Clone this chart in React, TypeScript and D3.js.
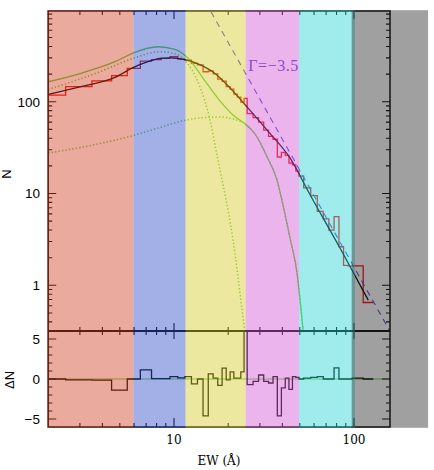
import React from "react";
import * as d3 from "d3";

// ---------------- data ----------------
// histogram bin edges (EW, Å)
const binEdges = [
  1.5, 2.5, 3.5, 4.5, 5.5, 6.5, 7.5, 8.5, 9.5, 10.5, 11.5, 12.5, 13.5, 14.5, 15.5,
  16.5, 17.5, 18.5, 19.5, 20.5, 21.5, 22.5, 23.5, 24.5, 25.5,
  27.5, 29.5, 31.5, 33.5, 35.5, 37.5, 39.5, 41.5, 43.5, 45.5, 47.5, 49.5,
  52.5,
  57.5, 62.5, 67.5, 72.5, 77.5, 82.5, 87.5, 92.5, 97.5,
  112.5, 128,
];
// counts N per bin
const counts = [
  118, 146, 169, 192, 231, 277, 288, 296, 309, 291, 284, 261, 252, 212, 216, 201,
  176, 168, 146, 137, 121, 112, 99, 109,
  74, 67, 60, 49, 42, 39, 25, 28, 26, 21.5, 20.5, 17.5,
  15.5,
  11.5, 9.5, 6.4, 5.3, 4.0, 5.6, 2.63, 1.65, 1.63,
  1.63, 0.65,
];
// residuals ΔN per bin
const residuals = [
  0, -0.1, -0.15, -1.4, 0, 1.15, 0.05, 0.05, 0.3, 0.15, 0.3, -0.6, 0, -4.6, 0.65, 0.1,
  -0.8, 1.36, -0.1, 0.9, 0.1, 0.1, 0.9, 9,
  -0.7, -0.3, 0.5, -0.3, -0.5, 0.3, -4.6, -1.1, 0.1, -1.3, 0.3, 0.2,
  0,
  0.1, 0.2, 0.3, 0, 0, 1.4, 0, 0, 0,
  0.1, 0,
];

// best fit (black)
const fitEW = [2.0, 3.04, 4.7, 5.92, 7.17, 8.36, 9.62, 11.5, 13.6, 16.9, 20.7, 25.8, 32.9, 44.1, 56.9, 83.6, 120];
const fitN = [120, 146, 184, 235, 273, 296, 301, 288, 258, 203, 138, 85, 49, 24.4, 9.75, 2.55, 0.69];

// two-component model, total (green solid)
const totalEW = [2.0, 3.04, 4.7, 5.92, 8.15, 10.13, 11.96, 14.49, 16.68, 18.01, 21.27, 25.12, 28.18, 32.93, 37.35, 40.33, 44.1, 48.24, 52.1];
const totalN = [165, 204, 273, 339, 397, 372, 299, 181, 124, 102, 71.6, 56.4, 44.5, 25.0, 14.0, 7.49, 3.28, 1.36, 0.326];

// narrow component (dotted)
const narrowEW = [2.0, 3.88, 5.92, 8.36, 9.87, 11.66, 13.94, 15.85, 16.9, 18.01, 19.95, 21.27, 23.77, 24.8];
const narrowN = [135.8, 212, 297, 350, 337, 274, 145, 63.2, 33.8, 18.0, 6.61, 3.12, 0.585, 0.302];

// broad component (dotted)
const broadEW = [2.0, 3.88, 5.92, 8.36, 11.66, 14.87, 18.01, 21.82, 25.12, 28.18, 32.93, 37.35, 40.33, 44.1, 48.24, 52.1];
const broadN = [27.6, 35.0, 42.8, 52.4, 63.2, 67.3, 68.1, 64.0, 56.4, 44.5, 25.0, 14.0, 7.49, 3.28, 1.36, 0.326];

// power-law guide Γ = -3.5
const slopeEW = [15, 160];
const slopeN = [1210, 0.305];
const slopeLabel = "Γ=−3.5";

// shaded EW ranges
const bandStart = [1.975, 5.95, 11.6, 25, 49.5, 97.1];
const bandEnd = [5.95, 11.6, 25, 49.5, 101.3, 258];
const bandColors = ["#d04228", "#324fcc", "#d5cc2c", "#d558d5", "#2cd5d5", "#2c2c2c"];

// ticks
const xMajor = [10, 100];
const xMinor = [3, 4, 5, 6, 7, 8, 9, 20, 30, 40, 50, 60, 70, 80, 90];
const yMajor = [1, 10, 100];
const yMinor = [0.4, 0.5, 0.6, 0.7, 0.8, 0.9, 2, 3, 4, 5, 6, 7, 8, 9, 20, 30, 40, 50, 60, 70, 80, 90, 200, 300, 400, 500, 600, 700, 800, 900];
const rMajor = [-5, 0, 5];
const rMinor = [-4, -3, -2, -1, 1, 2, 3, 4];
const xLabels = ["10", "100"];
const yLabels = ["1", "10", "100"];
const rLabels = ["−5", "0", "5"];

export default function App() {
  const W = 434, H = 470;
  const L = 48.2, R = 390, T = 11, M = 331, B = 427;

  const x = d3.scaleLog().domain([2, 158.5]).range([L, R]);
  const y = d3.scaleLog().domain([0.318, 973]).range([M, T]);
  const yr = d3.scaleLinear().domain([-6, 6]).range([B, M]);

  const zip = (a: number[], b: number[]) => a.map((v, i) => [v, b[i]] as [number, number]);
  const smooth = d3
    .line<[number, number]>()
    .x((d) => x(d[0]))
    .y((d) => y(d[1]))
    .curve(d3.curveMonotoneX);
  const straight = d3
    .line<[number, number]>()
    .x((d) => x(d[0]))
    .y((d) => y(d[1]));
  const stepPts = (vals: number[]) =>
    binEdges.map((e, i) => [e, vals[Math.min(i, vals.length - 1)]] as [number, number]);
  const stepTop = d3
    .line<[number, number]>()
    .x((d) => x(d[0]))
    .y((d) => y(d[1]))
    .curve(d3.curveStepAfter);
  const stepBot = d3
    .line<[number, number]>()
    .x((d) => x(d[0]))
    .y((d) => yr(d[1]))
    .curve(d3.curveStepAfter);

  const green = "#64c832";
  const blue = "#4646c8";

  // tick paths
  let ticks = "";
  const vt = (px: number, y0: number, len: number) => {
    ticks += `M${px},${y0}v${len}`;
  };
  const ht = (py: number, x0: number, len: number) => {
    ticks += `M${x0},${py}h${len}`;
  };
  xMajor.forEach((v) => {
    const px = x(v);
    vt(px, T, 8);
    vt(px, M, -8);
    vt(px, M, 8);
    vt(px, B, -9);
  });
  xMinor.forEach((v) => {
    const px = x(v);
    vt(px, T, 4);
    vt(px, M, -4);
    vt(px, M, 4);
    vt(px, B, -4);
  });
  yMajor.forEach((v) => {
    ht(y(v), L, 8);
    ht(y(v), R, -8);
  });
  yMinor.forEach((v) => {
    ht(y(v), L, 4);
    ht(y(v), R, -4);
  });
  rMajor.forEach((v) => {
    ht(yr(v), L, 8);
    ht(yr(v), R, -8);
  });
  rMinor.forEach((v) => {
    ht(yr(v), L, 4);
    ht(yr(v), R, -4);
  });

  const sans = "'Liberation Sans', Arial, sans-serif";
  const serif = "'DejaVu Serif', serif";

  return (
    <svg
      width={W}
      height={H}
      viewBox={`0 0 ${W} ${H}`}
      style={{ position: "absolute", left: 0, top: 0, display: "block", background: "#fff" }}
    >
      <defs>
        <clipPath id="clipTop">
          <rect x={L} y={T} width={R - L} height={M - T} />
        </clipPath>
        <clipPath id="clipBot">
          <rect x={L} y={M} width={R - L} height={B - M} />
        </clipPath>
      </defs>

      {/* top panel content */}
      <g clipPath="url(#clipTop)" fill="none">
        <path d={stepTop(stepPts(counts)) || ""} stroke="#ff0000" strokeWidth={1.3} />
        <path d={straight(zip(slopeEW, slopeN)) || ""} stroke={blue} strokeWidth={1.1} strokeDasharray="6,5" />
        <path d={smooth(zip(broadEW, broadN)) || ""} stroke={green} strokeWidth={1.5} strokeDasharray="1.3,2.2" />
        <path d={smooth(zip(narrowEW, narrowN)) || ""} stroke={green} strokeWidth={1.5} strokeDasharray="1.3,2.2" />
        <path d={smooth(zip(totalEW, totalN)) || ""} stroke={green} strokeWidth={1.3} />
        <path d={smooth(zip(fitEW, fitN)) || ""} stroke="#000" strokeWidth={1.3} />
      </g>
      <text
        x={248.3}
        y={70.5}
        fontFamily="'Liberation Serif', serif"
        fontSize={16}
        fill={blue}
        textLength={50}
        lengthAdjust="spacing"
      >
        {slopeLabel}
      </text>

      {/* bottom panel content */}
      <g clipPath="url(#clipBot)" fill="none">
        <line x1={L} x2={R} y1={yr(0)} y2={yr(0)} stroke={green} strokeWidth={1} />
        <path d={stepBot(stepPts(residuals)) || ""} stroke="#000" strokeWidth={1.3} />
      </g>

      {/* frames and ticks */}
      <g fill="none" stroke="#000">
        <rect x={L} y={T} width={R - L} height={B - T} strokeWidth={1.5} />
        <line x1={L} x2={R} y1={M} y2={M} strokeWidth={2} />
        <path d={ticks} strokeWidth={1.1} />
      </g>

      {/* shaded EW ranges (translucent overlay) */}
      <g>
        {bandStart.map((s, i) => (
          <rect
            key={i}
            x={x(s)}
            y={10.2}
            width={x(bandEnd[i]) - x(s)}
            height={417.6}
            fill={bandColors[i]}
            fillOpacity={0.45}
          />
        ))}
      </g>

      {/* tick labels */}
      <g fontFamily={sans} fontSize={13.5} fill="#000" textAnchor="end">
        {yMajor.map((v, i) => (
          <text key={"y" + i} x={40} y={y(v)} dy="0.36em">
            {yLabels[i]}
          </text>
        ))}
        {rMajor.map((v, i) => (
          <text key={"r" + i} x={40} y={yr(v)} dy="0.36em">
            {rLabels[i]}
          </text>
        ))}
      </g>
      <g fontFamily={serif} fontSize={12} fill="#000" textAnchor="middle">
        {xMajor.map((v, i) => (
          <text key={"x" + i} x={x(v)} y={444}>
            {xLabels[i]}
          </text>
        ))}
        <text x={219} y={465}>
          EW (Å)
        </text>
      </g>
      <g fontFamily={sans} fontSize={13} fill="#000" textAnchor="middle">
        <text transform="translate(11,174) rotate(-90)">N</text>
        <text transform="translate(14,380) rotate(-90)">ΔN</text>
      </g>
    </svg>
  );
}
